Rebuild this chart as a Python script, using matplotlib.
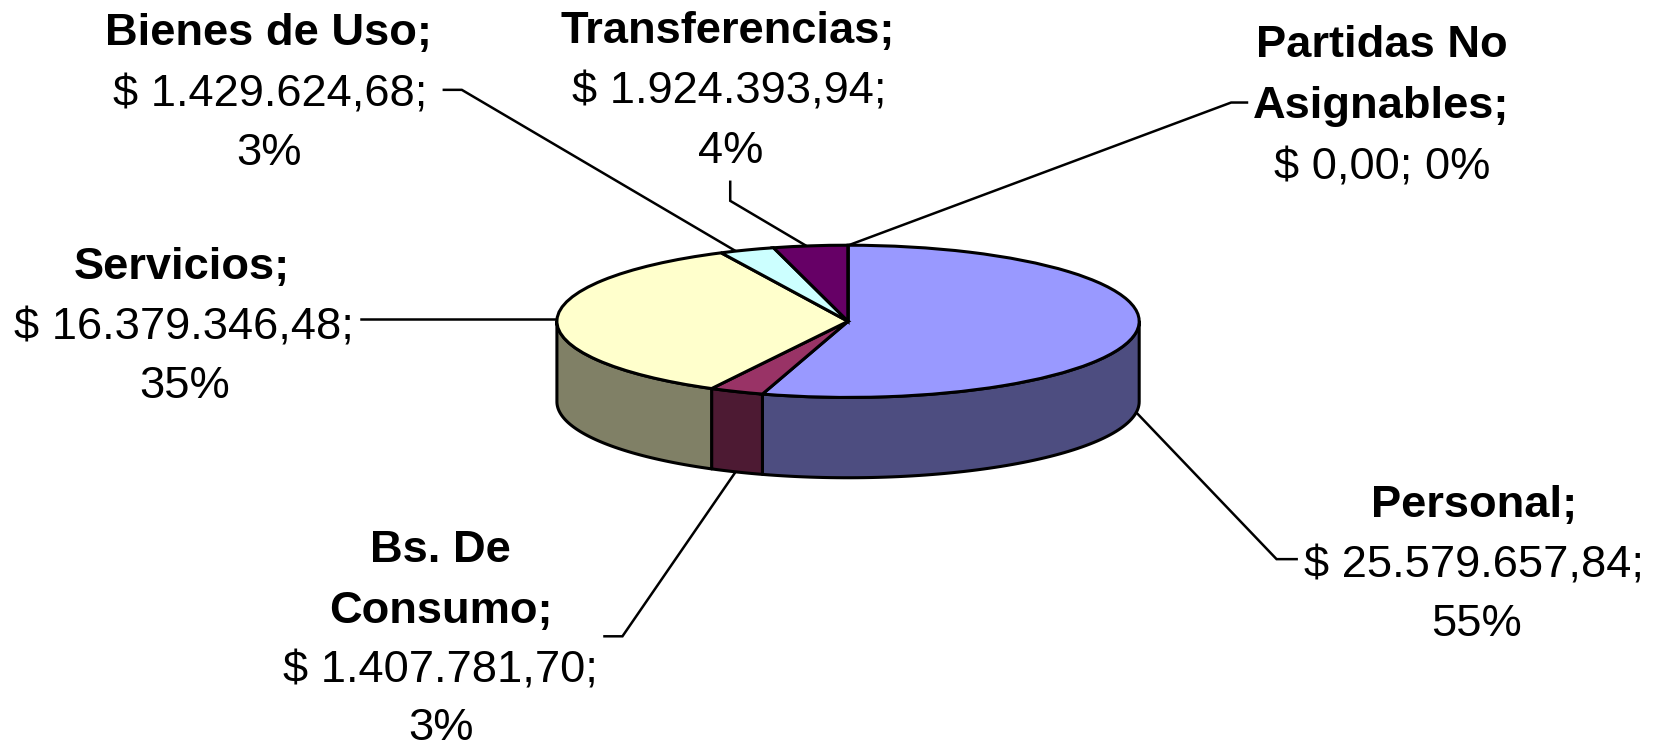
import numpy as np
import matplotlib
matplotlib.use("Agg")
import matplotlib.pyplot as plt

plt.rcParams['font.family'] = ['Liberation Sans', 'DejaVu Sans']

# data
categories = ["Personal", "Bs. De Consumo", "Servicios", "Bienes de Uso", "Transferencias", "Partidas No Asignables"]
values = [25579657.84, 1407781.70, 16379346.48, 1429624.68, 1924393.94, 0.0]
top_colors = ["#9999FF", "#993366", "#FFFFCC", "#CCFFFF", "#660066", "#FFFFFF"]
wall_colors = ["#4D4D80", "#4D1A33", "#808066", "#668080", "#330033", "#808080"]

# label lines: (text, bold, x centre, baseline y) in the 1568x702 view
label_lines = [
    ("Bienes de Uso;", True, 254, 43), ("$ 1.429.624,68;", False, 256, 101), ("3%", False, 255, 156),
    ("Transferencias;", True, 689, 41), ("$ 1.924.393,94;", False, 690, 98), ("4%", False, 691, 154),
    ("Partidas No", True, 1308, 54), ("Asignables;", True, 1307, 112), ("$ 0,00; 0%", False, 1308, 170),
    ("Servicios;", True, 172, 264), ("$ 16.379.346,48;", False, 174, 321), ("35%", False, 175, 377),
    ("Personal;", True, 1395, 489), ("$ 25.579.657,84;", False, 1395, 546), ("55%", False, 1397, 602),
    ("Bs. De", True, 417, 532), ("Consumo;", True, 417, 589), ("$ 1.407.781,70;", False, 417, 646), ("3%", False, 417, 700),
]

# leader lines
leaders = [
    ([420, 437, 697], [85, 85, 238]),
    ([691, 691, 762], [172, 190, 232]),
    ([1180, 1165, 803], [97, 97, 232]),
    ([342, 527], [302, 302]),
    ([1227, 1208, 1076], [529, 529, 391]),
    ([572, 589, 695], [602, 602, 448]),
]

fig = plt.figure(figsize=(16.57, 7.42), dpi=100, facecolor="white")

# full figure axes for text and leader lines
bg = fig.add_axes([0, 0, 1, 1])
bg.set_xlim(0, 1568)
bg.set_ylim(702, 0)
bg.axis("off")

for xs, ys in leaders:
    bg.plot(xs, ys, color="black", lw=1.8, solid_joinstyle="miter")

for txt, bold, x, y in label_lines:
    bg.text(x, y, txt, ha="center", va="baseline", fontsize=32.6,
            fontweight="bold" if bold else "normal", color="black", clip_on=False)

# pie axes, squashed so the circle becomes the top ellipse
left, right, top, bottom = 527, 1078, 232, 376
ax = fig.add_axes([left / 1568, 1 - bottom / 702, (right - left) / 1568, (bottom - top) / 702])
ax.patch.set_alpha(0)
wedges, _ = ax.pie(values, startangle=90, counterclock=False, colors=top_colors, radius=1,
                   wedgeprops=dict(edgecolor="black", linewidth=2.2, zorder=3))
ax.set_aspect("auto")
ax.set_xlim(-1, 1)
ax.set_ylim(-1, 1)
ax.axis("off")

# side wall, only the front half of the ellipse shows
depth = 76 / ((bottom - top) / 2)
shares = np.cumsum([0] + values) / sum(values) * 360
for i in range(len(values)):
    a = max(shares[i], 90)
    b = min(shares[i + 1], 270)
    if b <= a:
        continue
    t = np.radians(np.linspace(a, b, 80))
    xs = np.sin(t)
    ys = np.cos(t)
    ax.fill(np.r_[xs, xs[::-1]], np.r_[ys, ys[::-1] - depth], facecolor=wall_colors[i],
            edgecolor="black", linewidth=2.2, zorder=2, clip_on=False, joinstyle="round")

for w in wedges:
    w.set_clip_on(False)

fig.savefig("out.png", dpi=100, facecolor="white")
